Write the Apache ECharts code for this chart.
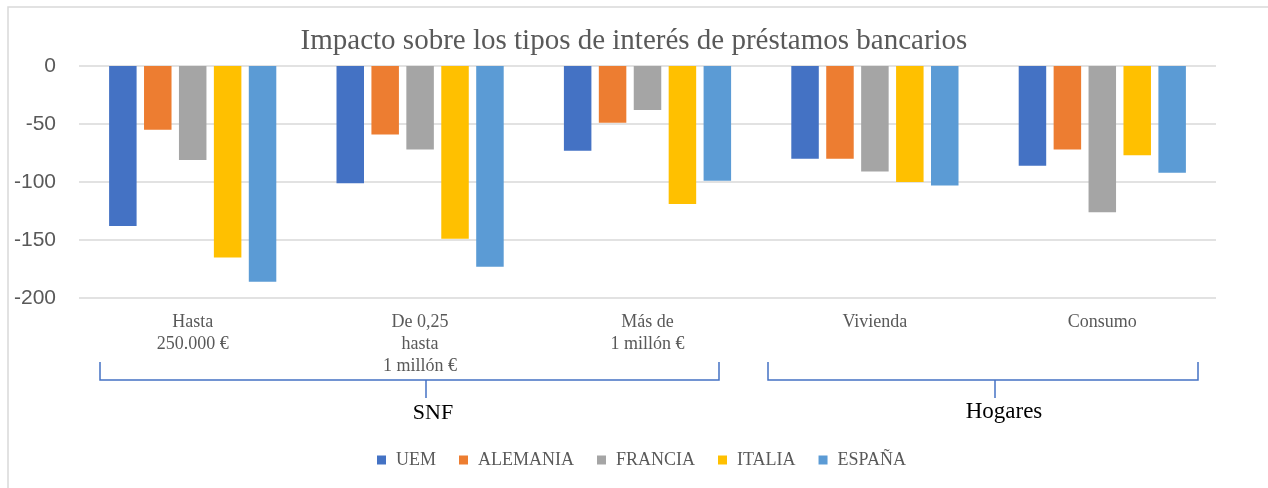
<!DOCTYPE html>
<html lang="es">
    <head>
        <meta charset="utf-8">
        <title>Impacto sobre los tipos de interés</title>
        <script src="https://cdn.jsdelivr.net/npm/echarts@6.0.0/dist/echarts.min.js"></script>
        <style>
            html, body { margin: 0; padding: 0; background: #fff; }
            .echarts_main { width: 1268px; height: 488px; }
        </style>
    </head>
    <body>
        <div class="echarts_main"></div>

    <script type="text/javascript">
        // categories (x axis)
        let categories = ['Hasta\n250.000 €', 'De 0,25\nhasta\n1 millón €', 'Más de\n1 millón €', 'Vivienda', 'Consumo'];

        // series values
        let uem = [-138, -101, -73, -80, -86];
        let alemania = [-55, -59, -49, -80, -72];
        let francia = [-81, -72, -38, -91, -126];
        let italia = [-165, -149, -119, -100, -77];
        let espana = [-186, -173, -99, -103, -92];

        let seriesNames = ['UEM', 'ALEMANIA', 'FRANCIA', 'ITALIA', 'ESPAÑA'];
        let seriesColors = ['#4472C4', '#ED7D31', '#A5A5A5', '#FFC000', '#5B9BD5'];
        let seriesData = [uem, alemania, francia, italia, espana];

        // y axis ticks
        let yMin = -200;
        let yMax = 0;
        let yStep = 50;

        const serif = '"Liberation Serif", "Times New Roman", serif';
        const sans = '"Liberation Sans", Arial, sans-serif';
        const bracketColor = '#4472C4';

        let chartSeries = [];
        seriesNames.forEach((name, index) => {
            chartSeries.push({
                name: name,
                type: 'bar',
                data: seriesData[index],
                barWidth: 27.5,
                barGap: '27%',
                itemStyle: { color: seriesColors[index] }
            });
        });

        let Chart = echarts.init(document.getElementsByClassName('echarts_main')[0]);

        let option = {
            animation: false,
            title: {
                text: 'Impacto sobre los tipos de interés de préstamos bancarios',
                left: 'center',
                top: 22,
                textStyle: { fontFamily: serif, fontSize: 29, fontWeight: 'normal', color: '#595959' }
            },
            legend: {
                data: seriesNames,
                left: 377,
                top: 451,
                padding: 0,
                icon: 'rect',
                itemWidth: 9,
                itemHeight: 9,
                itemGap: 23,
                textStyle: { fontFamily: serif, fontSize: 18, lineHeight: 18, color: '#595959', padding: [0, 0, 0, 5] }
            },
            grid: { left: 79, right: 52, top: 66, bottom: 190 },
            xAxis: {
                type: 'category',
                data: categories,
                axisLine: { show: false },
                axisTick: { show: false },
                axisLabel: { fontFamily: serif, fontSize: 18, lineHeight: 22, color: '#595959', margin: 13, interval: 0 }
            },
            yAxis: {
                type: 'value',
                min: yMin,
                max: yMax,
                interval: yStep,
                axisLine: { show: false },
                axisTick: { show: false },
                axisLabel: { fontFamily: sans, fontSize: 21, color: '#595959', margin: 23 },
                splitLine: { lineStyle: { color: '#d9d9d9', width: 1.5 } }
            },
            series: chartSeries,
            graphic: [
                // outer frame
                { type: 'rect', shape: { x: 8, y: 7, width: 1300, height: 520 }, style: { fill: 'none', stroke: '#d9d9d9', lineWidth: 1.5 }, silent: true },
                // SNF bracket
                { type: 'polyline', shape: { points: [[100, 362], [100, 380], [719, 380], [719, 362]] }, style: { stroke: bracketColor, lineWidth: 1.5, fill: 'none' } },
                { type: 'line', shape: { x1: 426, y1: 380, x2: 426, y2: 398 }, style: { stroke: bracketColor, lineWidth: 1.5 } },
                { type: 'text', x: 433, y: 413, style: { text: 'SNF', font: '22px ' + serif, fill: '#000', textAlign: 'center', textVerticalAlign: 'middle' } },
                // Hogares bracket
                { type: 'polyline', shape: { points: [[768, 362], [768, 380], [1198, 380], [1198, 362]] }, style: { stroke: bracketColor, lineWidth: 1.5, fill: 'none' } },
                { type: 'line', shape: { x1: 995, y1: 380, x2: 995, y2: 398 }, style: { stroke: bracketColor, lineWidth: 1.5 } },
                { type: 'text', x: 1004, y: 412, style: { text: 'Hogares', font: '23px ' + serif, fill: '#000', textAlign: 'center', textVerticalAlign: 'middle' } }
            ]
        };

        Chart.setOption(option);
    </script>
    </body>
</html>
